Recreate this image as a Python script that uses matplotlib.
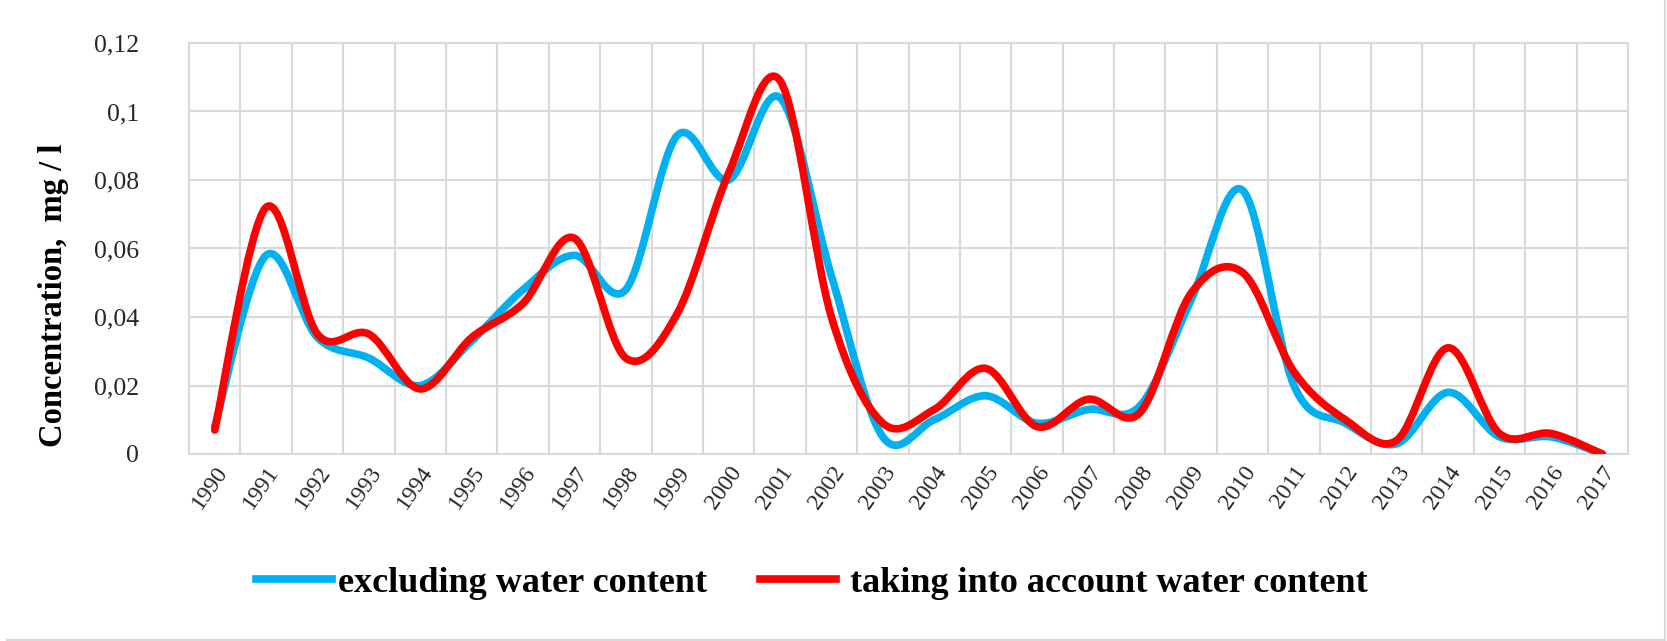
import matplotlib
matplotlib.use("Agg")
import matplotlib.pyplot as plt
from matplotlib.path import Path
from matplotlib.patches import PathPatch
from matplotlib.lines import Line2D

# concentration per year, mg/l
years = [str(y) for y in range(1990, 2018)]
excl_water = [0.008, 0.058, 0.034, 0.028, 0.020, 0.033, 0.048, 0.058, 0.048, 0.093,
              0.080, 0.104, 0.052, 0.005, 0.010, 0.017, 0.009, 0.013, 0.014, 0.045,
              0.077, 0.020, 0.009, 0.003, 0.018, 0.005, 0.005, 0.000]
with_water = [0.007, 0.072, 0.035, 0.035, 0.019, 0.034, 0.044, 0.063, 0.028, 0.041,
              0.082, 0.109, 0.040, 0.009, 0.013, 0.025, 0.008, 0.016, 0.012, 0.047,
              0.053, 0.024, 0.010, 0.004, 0.031, 0.006, 0.006, 0.000]
yticks = [0, 0.02, 0.04, 0.06, 0.08, 0.1, 0.12]
ytick_labels = ["0", "0,02", "0,04", "0,06", "0,08", "0,1", "0,12"]

BLUE = "#00B0F0"
RED = "#FF0000"
GRID = "#D9D9D9"
TXT = "#262626"


def smooth_path(xs, ys):
    # bezier through the points, excel-like smoothing
    n = len(xs)
    verts = [(xs[0], ys[0])]
    codes = [Path.MOVETO]
    for i in range(n - 1):
        a = max(i - 1, 0)
        d = min(i + 2, n - 1)
        c1 = (xs[i] + (xs[i + 1] - xs[a]) / 6.0, ys[i] + (ys[i + 1] - ys[a]) / 6.0)
        c2 = (xs[i + 1] - (xs[d] - xs[i]) / 6.0, ys[i + 1] - (ys[d] - ys[i]) / 6.0)
        verts += [c1, c2, (xs[i + 1], ys[i + 1])]
        codes += [Path.CURVE4] * 3
    return Path(verts, codes)


plt.rcParams['font.family'] = ['Liberation Serif', 'DejaVu Serif']

fig = plt.figure(figsize=(16.67, 6.41), dpi=100)
ax = fig.add_axes([189 / 1667, 1 - 454 / 641, (1628 - 189) / 1667, (454 - 43) / 641])

x = list(range(len(years)))
for vals, col in [(excl_water, BLUE), (with_water, RED)]:
    p = PathPatch(smooth_path(x, vals), fill=False, edgecolor=col, lw=5.5,
                  capstyle='round', joinstyle='round', zorder=3)
    ax.add_patch(p)

ax.set_xlim(-0.5, len(years) - 0.5)
ax.set_ylim(0, 0.12)

# grid: horizontal at ticks, vertical between categories
for yv in yticks:
    ax.axhline(yv, color=GRID, lw=1.5, zorder=1)
for k in range(len(years) + 1):
    ax.axvline(k - 0.5, color=GRID, lw=1.5, zorder=1)
for s in ax.spines.values():
    s.set_color(GRID)
    s.set_linewidth(1.5)

ax.set_yticks(yticks)
ax.set_yticklabels(ytick_labels, fontsize=18.5, color=TXT)
ax.tick_params(axis='y', length=0, pad=36)
ax.set_xticks(x)
ax.set_xticklabels(years, fontsize=17, color=TXT, rotation=55, ha='right',
                   rotation_mode='anchor')
ax.tick_params(axis='x', length=0, pad=6)

ax.set_ylabel("Concentration,  mg / l", fontsize=23.5, fontweight='bold', color='black')
ax.yaxis.set_label_coords(-0.0834, 0.386)

handles = [Line2D([], [], color=BLUE, lw=5.5), Line2D([], [], color=RED, lw=5.5)]
fig.legend(handles, ["excluding water content", " taking into account water content"],
           loc='center', bbox_to_anchor=(812 / 1667, 1 - 583 / 641), ncol=2,
           frameon=False, prop={'size': 26, 'weight': 'bold'},
           handlelength=2.1, handletextpad=0.15, columnspacing=1.47)

# outer chart frame (light grey)
for xs_, ys_ in [([7 / 1667, 7 / 1667], [0, 1 - 640 / 641]),
                 ([1665 / 1667, 1665 / 1667], [0, 1]),
                 ([7 / 1667, 1665 / 1667], [1 - 640 / 641, 1 - 640 / 641])]:
    fig.add_artist(Line2D(xs_, ys_, color=GRID, lw=1.5, transform=fig.transFigure))

fig.savefig("out.png", dpi=100, facecolor='white')
